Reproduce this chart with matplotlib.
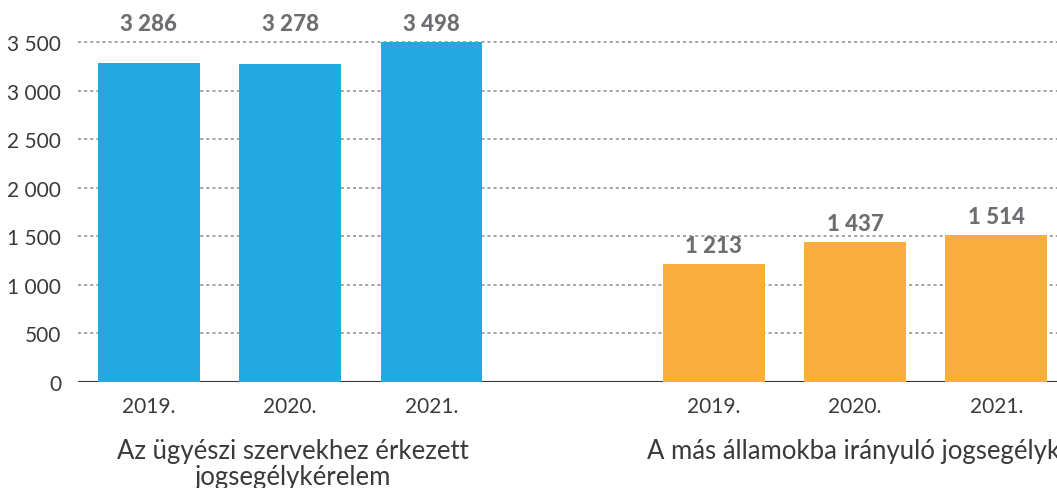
import numpy as np
import matplotlib.pyplot as plt

years = ["2019.", "2020.", "2021."]
incoming = [3286, 3278, 3498]
outgoing = [1213, 1437, 1514]
group_names = ["Az ügyészi szervekhez érkezett\njogsegélykérelem",
               "A más államokba irányuló jogsegélykérelem"]
yticks = [0, 500, 1000, 1500, 2000, 2500, 3000, 3500]

blue = "#23a8e0"
orange = "#f9ae3e"
label_gray = "#6d6e71"
text_dark = "#3a3a3a"

def fmt(v):
    # space as thousands separator
    return f"{v:,}".replace(",", " ")

plt.rcParams['font.family'] = ['Lato', 'DejaVu Sans']

fig = plt.figure(figsize=(10.57, 4.89), dpi=100)
ax = fig.add_axes([0.0738, 0.2168, 0.9262, 0.7832])

pos_a = np.arange(3)
pos_b = np.arange(3) + 4
w = 0.72

ax.bar(pos_a, incoming, width=w, color=blue, zorder=3)
ax.bar(pos_b, outgoing, width=w, color=orange, zorder=3)

# value labels
top_a = max(incoming)
for x, v in zip(pos_a, incoming):
    ax.annotate(fmt(v), (x, top_a), xytext=(0, 6), textcoords="offset points",
                ha="center", va="bottom", fontsize=16, fontweight="black",
                color=label_gray, zorder=4)
for x, v in zip(pos_b, outgoing):
    ax.annotate(fmt(v), (x, v), xytext=(0, 6), textcoords="offset points",
                ha="center", va="bottom", fontsize=16, fontweight="black",
                color=label_gray, zorder=4)

ax.set_xlim(-0.502, 6.43)
ax.set_ylim(0, 3943)

ax.set_yticks(yticks)
ax.set_yticklabels([fmt(t) for t in yticks], fontsize=15, color=text_dark)
ax.set_xticks(list(pos_a) + list(pos_b))
ax.set_xticklabels(years + years, fontsize=15, color=text_dark)
ax.tick_params(axis="both", length=0)
ax.tick_params(axis="y", pad=12)
ax.tick_params(axis="x", pad=10)

for t in yticks[1:]:
    ax.axhline(t, color="#8a8a8a", lw=1.1, ls=(0, (2, 2)), zorder=1)
ax.axhline(0, color="#333333", lw=1.5, zorder=2)

for s in ax.spines.values():
    s.set_visible(False)

ax.text(1.02, -0.145, group_names[0], transform=ax.get_xaxis_transform(),
        ha="center", va="top", fontsize=18.5, color=text_dark,
        linespacing=1.05, clip_on=False)
ax.text(3.53, -0.145, group_names[1], transform=ax.get_xaxis_transform(),
        ha="left", va="top", fontsize=18.5, color=text_dark,
        clip_on=False)

fig.savefig("out.png", dpi=100)
